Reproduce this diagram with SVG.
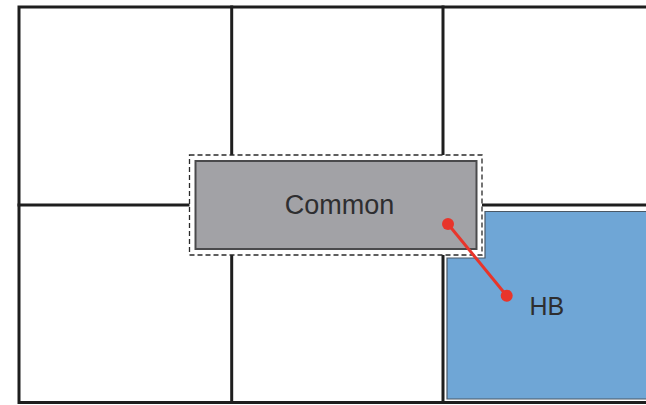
<svg xmlns="http://www.w3.org/2000/svg" width="646" height="405" viewBox="0 0 646 405">
  <style>
    .wall { stroke: #1e1e1e; stroke-width: 3; fill: none; stroke-linecap: square; }
    .label { font-family: "Liberation Sans", Arial, sans-serif; fill: #2e2e30; }
    .link { stroke: #e8352b; stroke-width: 3; fill: none; }
    .dot { fill: #e8352b; }
  </style>

  <rect width="646" height="405" fill="#ffffff"/>

  <!-- floor grid -->
  <g id="grid">
    <path class="wall" d="M19,7 H646 M19,7 V402.5 H646"/>
    <path class="wall" d="M231.7,7 V155 M231.7,255 V402.5"/>
    <path class="wall" d="M443,7 V155 M443,255 V402.5"/>
    <path class="wall" d="M19,205 H189 M482,205 H646"/>
  </g>

  <!-- shared zone -->
  <g id="common">
    <rect x="189.5" y="155" width="292.5" height="100" fill="#ffffff" stroke="#2a2a2a" stroke-width="1.3" stroke-dasharray="5,3"/>
    <rect x="195.5" y="161" width="281" height="88" fill="#a2a2a6" stroke="#4a4a4c" stroke-width="2"/>
    <text class="label" x="339.5" y="214" font-size="27" text-anchor="middle">Common</text>
  </g>

  <!-- HB zone -->
  <g id="hb">
    <path d="M485,211.5 H647 V399 H447 V258 H485 Z" fill="#6fa6d6" stroke="#4a5866" stroke-width="1.2"/>
    <text class="label" x="529.5" y="314.5" font-size="25">HB</text>
  </g>

  <!-- connectors -->
  <g id="connectors">
    <line class="link" x1="448" y1="224" x2="506.7" y2="295.7"/>
    <circle class="dot" cx="448" cy="224" r="6"/>
    <circle class="dot" cx="506.7" cy="295.7" r="6"/>
  </g>
</svg>
